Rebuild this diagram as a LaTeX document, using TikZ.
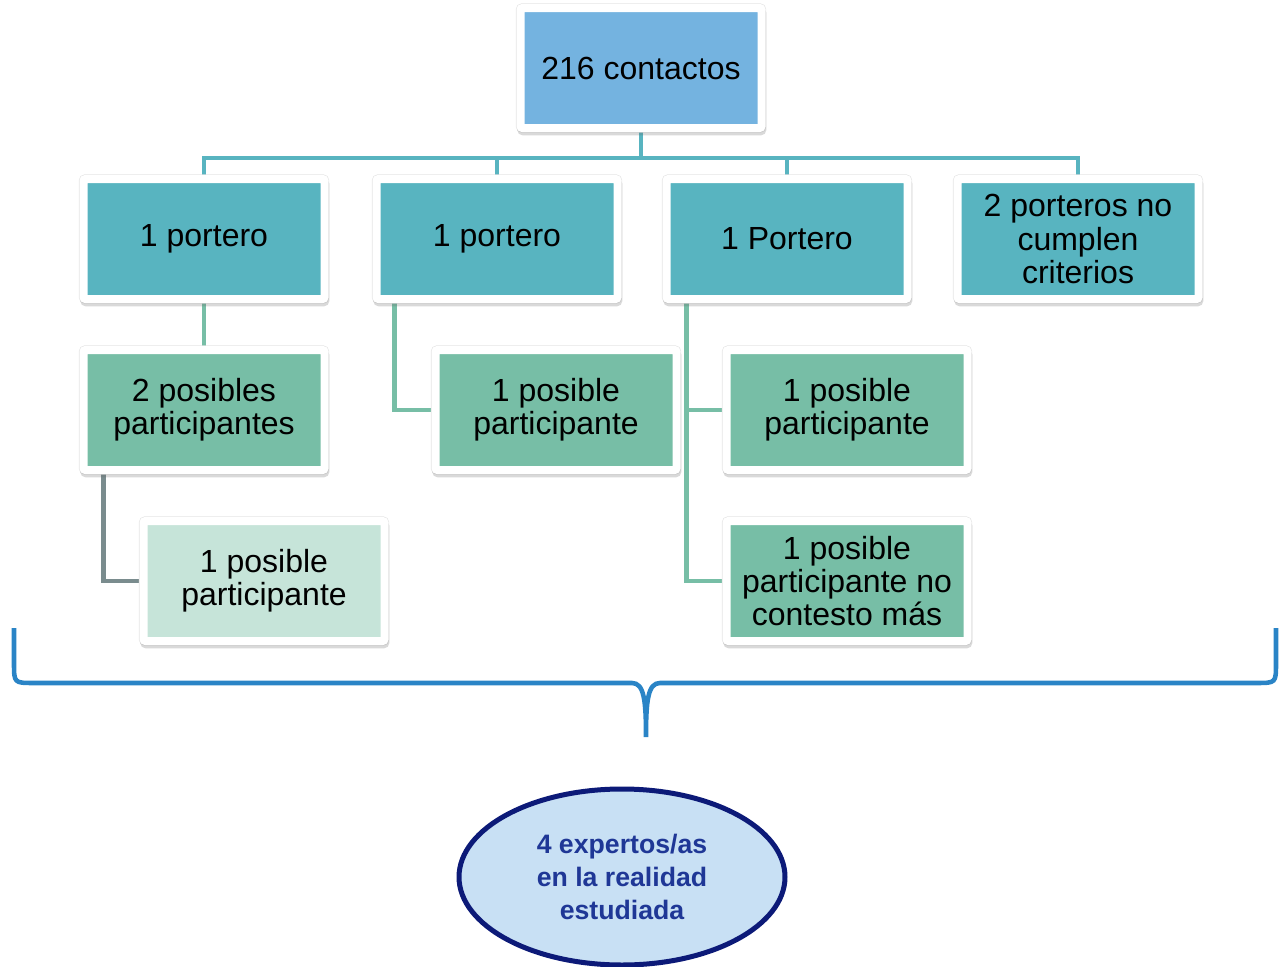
\documentclass[tikz,border=0pt]{standalone}
\usepackage{fontspec}
\setmainfont{Liberation Sans}
\usepackage{xcolor}
\usetikzlibrary{shapes.geometric,shadows,backgrounds}

\definecolor{topblue}{HTML}{74B3E0}
\definecolor{teal}{HTML}{58B4C0}
\definecolor{sage}{HTML}{77BEA6}
\definecolor{pale}{HTML}{C6E4D9}
\definecolor{slate}{HTML}{7A8C8E}
\definecolor{bracecol}{HTML}{2A84C6}
\definecolor{navy}{HTML}{0C1A78}
\definecolor{navytext}{HTML}{1F3796}
\definecolor{sky}{HTML}{C8E0F4}

\tikzset{
	box/.style={rectangle, draw=white, line width=6pt, rounded corners=1.5pt,
		minimum width=180.75pt, minimum height=90pt, inner sep=0pt, align=center,
		font=\fontsize{24}{25}\selectfont,
		preaction={draw=black!10, line width=7pt},
		general shadow={shadow xshift=0.6pt, shadow yshift=-2.5pt, opacity=.25,
			fill=black!60, draw=black!60, line width=6pt}},
	trunk/.style={draw=teal, line width=3.6pt},
	branch/.style={draw=sage, line width=3.6pt},
	twig/.style={draw=slate, line width=3.6pt},
}

\begin{document}
\begin{tikzpicture}[x=0.75pt,y=-0.75pt]

	\useasboundingbox (0,0) rectangle (1286,967);

	\node[box, fill=topblue] (top) at (641,68) {216 contactos};

	\node[box, fill=teal] (p1) at (204,239) {1 portero};
	\node[box, fill=teal] (p2) at (497,239) {1 portero};
	\node[box, fill=teal] (p3) at (787,239) {1 Portero};
	\node[box, fill=teal] (p4) at (1078,239) {2 porteros no\\cumplen\\criterios};

	\node[box, fill=sage] (d1) at (204,410) {2 posibles\\participantes};
	\node[box, fill=sage] (d2) at (556,410) {1 posible\\participante};
	\node[box, fill=sage] (e1) at (847,410) {1 posible\\participante};
	\node[box, fill=sage] (e2) at (847,581) {1 posible\\participante no\\contesto más};

	\node[box, fill=pale] (f1) at (264,581) {1 posible\\participante};

	\begin{scope}[on background layer]
		\draw[trunk] (top.south) -- ++(0,26) -| (p1.north);
		\draw[trunk] (top.south) -- ++(0,26) -| (p2.north);
		\draw[trunk] (top.south) -- ++(0,26) -| (p3.north);
		\draw[trunk] (top.south) -- ++(0,26) -| (p4.north);

		\draw[branch] (p1.south) -- (d1.north);
		\draw[branch] ([xshift=16.5pt]p2.south west) |- (d2.west);
		\draw[branch] ([xshift=18pt]p3.south west) |- (e1.west);
		\draw[branch] ([xshift=18pt]p3.south west) |- (e2.west);

		\draw[twig] ([xshift=18pt]d1.south west) |- (f1.west);
	\end{scope}

	\draw[bracecol, line width=3.4pt] (14,628) -- (14,663) .. controls (14,683) .. (34,683)
		-- (632,683) .. controls (644,683) and (646,700) .. (646,737)
		.. controls (646,700) and (648,683) .. (660,683)
		-- (1256,683) .. controls (1276,683) .. (1276,663) -- (1276,628);

	\node[ellipse, draw=navy, line width=3.75pt, fill=sky, minimum width=244.5pt,
		minimum height=132pt, align=center, text=navytext,
		font=\bfseries\fontsize{20}{24.75}\selectfont] (ell) at (622,877)
		{4 expertos/as\\en la realidad\\estudiada};

\end{tikzpicture}
\end{document}
